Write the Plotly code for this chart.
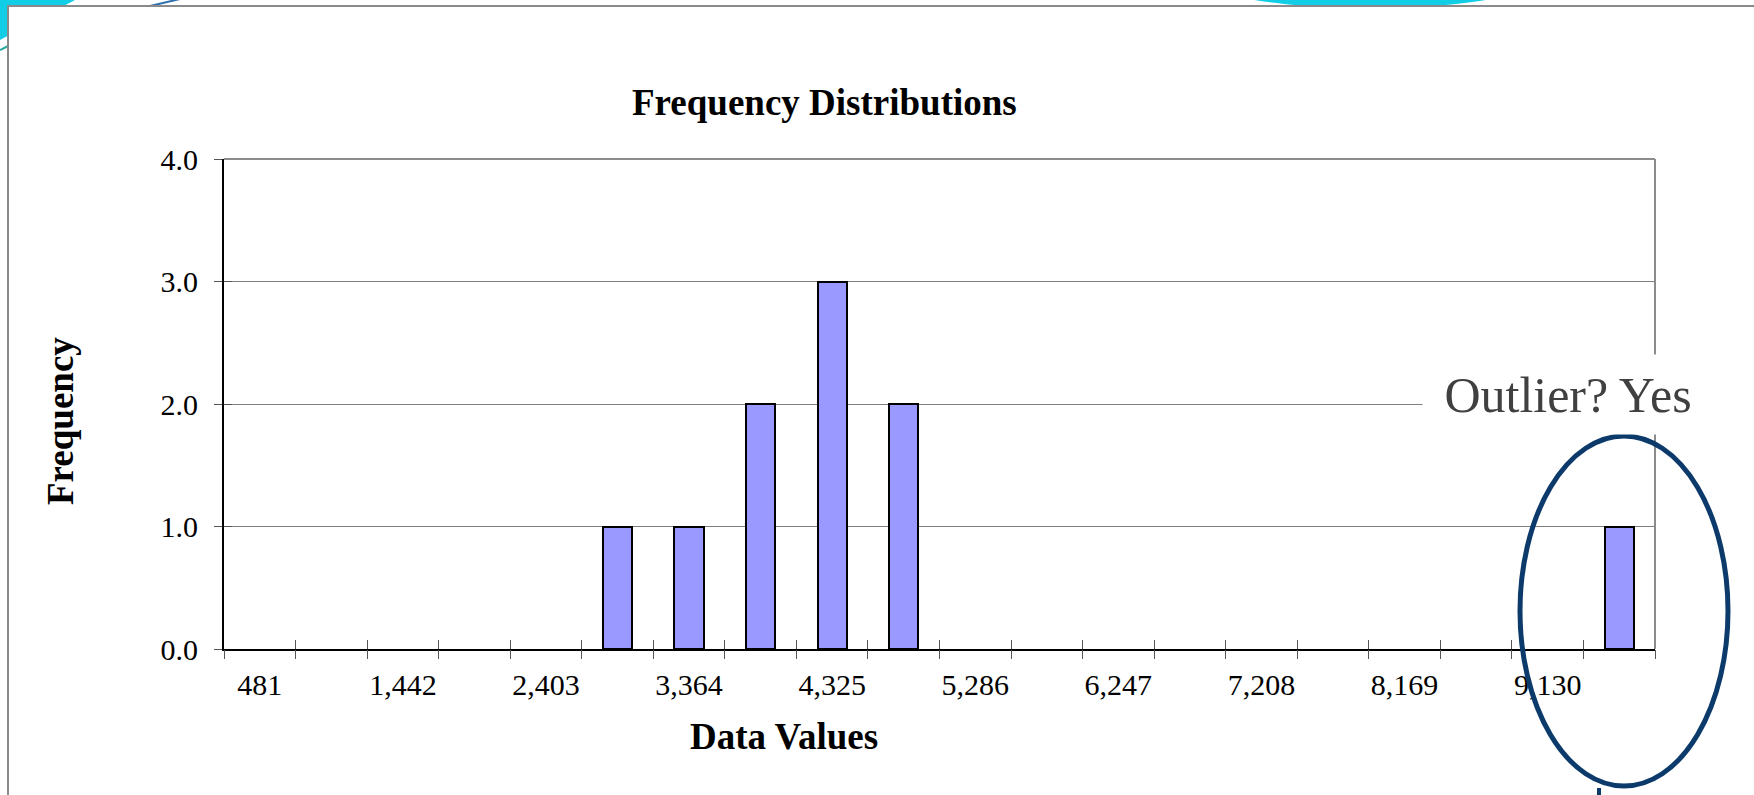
import plotly.graph_objects as go

# ---- data ----
bin_labels = ["481", "962", "1,442", "1,923", "2,403", "2,884", "3,364", "3,845",
              "4,325", "4,806", "5,286", "5,767", "6,247", "6,728", "7,208", "7,689",
              "8,169", "8,650", "9,130", "9,611"]
frequency = [0, 0, 0, 0, 0, 1, 1, 2, 3, 2, 0, 0, 0, 0, 0, 0, 0, 0, 0, 1]
shown_labels = bin_labels[::2]
y_ticks = [0, 1, 2, 3, 4]
title_text = "Frequency Distributions"
x_title = "Data Values"
y_title = "Frequency"
callout_text = "Outlier? Yes"

W, H = 1754, 795
L, R, T, B = 224, 1655, 159, 649
PW, PH = R - L, B - T


def px(xp):
    return (xp - L) / PW


def py(yp):
    return (B - yp) / PH


SERIF = "Liberation Serif, Times New Roman, serif"
n = len(bin_labels)
bounds = [i - 0.5 for i in range(n + 1)]
outline_w = [2 if v > 0 else 0 for v in frequency]

fig = go.Figure()
fig.add_trace(go.Bar(
    x=bin_labels, y=frequency, width=0.41,
    marker=dict(color="#9999FF", line=dict(color="black", width=outline_w)),
    hoverinfo="x+y", showlegend=False,
))
# invisible helpers to activate overlay axes (cross ticks)
fig.add_trace(go.Scatter(x=[0], y=[0], xaxis="x2", yaxis="y2", mode="markers",
                         marker=dict(opacity=0), hoverinfo="skip", showlegend=False))
fig.add_trace(go.Scatter(x=[0], y=[0], xaxis="x3", yaxis="y", mode="markers",
                         marker=dict(opacity=0), hoverinfo="skip", showlegend=False))

tickc = "#555555"
fig.update_layout(
    width=W, height=H,
    margin=dict(l=L, r=W - R, t=T, b=H - B),
    paper_bgcolor="white", plot_bgcolor="rgba(0,0,0,0)",
    font=dict(family=SERIF, size=30, color="black"),
    bargap=0,
    xaxis=dict(type="category", range=[-0.5, n - 0.5], tickmode="array",
               tickvals=shown_labels, ticktext=shown_labels, ticks="",
               showline=True, linecolor="black", linewidth=2, showgrid=False,
               tickfont=dict(family=SERIF, size=30, color="black"),
               ticklabelstandoff=8, fixedrange=True),
    xaxis2=dict(overlaying="x", anchor="y2", range=[-0.5, n - 0.5], tickmode="array",
                tickvals=bounds, ticks="outside", ticklen=9, tickwidth=1, tickcolor=tickc,
                showticklabels=False, showgrid=False, showline=False, zeroline=False,
                side="bottom"),
    xaxis3=dict(overlaying="x", anchor="y", range=[-0.5, n - 0.5], tickmode="array",
                tickvals=bounds, ticks="inside", ticklen=9, tickwidth=1, tickcolor=tickc,
                showticklabels=False, showgrid=False, showline=False, zeroline=False,
                side="bottom"),
    yaxis=dict(range=[0, 4], tickmode="array", tickvals=y_ticks, tickformat=".1f",
               ticks="outside", ticklen=8, tickwidth=1, tickcolor=tickc,
               showline=True, linecolor="black", linewidth=2,
               showgrid=True, gridcolor="#7f7f7f", gridwidth=1, zeroline=False,
               tickfont=dict(family=SERIF, size=30, color="black"),
               ticklabelstandoff=10, fixedrange=True),
    yaxis2=dict(overlaying="y", anchor="x2", range=[0, 4], tickmode="array",
                tickvals=y_ticks, ticks="inside", ticklen=8, tickwidth=1, tickcolor=tickc,
                showticklabels=False, showgrid=False, showline=False, zeroline=False,
                side="left"),
)

shapes = []
# decorative slide background pieces (outside the content frame)
shapes.append(dict(type="path", xref="paper", yref="paper", layer="below",
                   path=f"M {px(0)},{py(0)} L {px(75)},{py(0)} L {px(0)},{py(40)} Z",
                   fillcolor="#12CDE6", line=dict(width=0)))
shapes.append(dict(type="circle", xref="paper", yref="paper", layer="below",
                   x0=px(1215), x1=px(1525), y0=py(-40), y1=py(8),
                   fillcolor="#12CDE6", line=dict(width=0)))
shapes.append(dict(type="line", xref="paper", yref="paper", layer="below",
                   x0=px(150), y0=py(6), x1=px(180), y1=py(-1),
                   line=dict(color="#2E6FB0", width=2)))
shapes.append(dict(type="line", xref="paper", yref="paper", layer="below",
                   x0=px(0), y0=py(50), x1=px(8), y1=py(46),
                   line=dict(color="#2BA8A0", width=2)))
# slide content frame
shapes.append(dict(type="rect", xref="paper", yref="paper", layer="below",
                   x0=px(8), x1=px(1770), y0=py(6), y1=py(810),
                   fillcolor="white", line=dict(color="#8a8a8a", width=2)))
# right border of plot area
shapes.append(dict(type="line", xref="paper", yref="paper", layer="below",
                   x0=1, x1=1, y0=0, y1=1, line=dict(color="#8c8c8c", width=2)))
# top border slightly heavier
shapes.append(dict(type="line", xref="paper", yref="paper", layer="below",
                   x0=0, x1=1, y0=1, y1=1, line=dict(color="#8c8c8c", width=2)))
# callout ellipse
shapes.append(dict(type="circle", xref="paper", yref="paper", layer="above",
                   x0=px(1520), x1=px(1728), y0=py(786), y1=py(436),
                   line=dict(color="#0B3A6B", width=5), fillcolor="rgba(0,0,0,0)"))
shapes.append(dict(type="line", xref="paper", yref="paper", layer="above",
                   x0=px(1599), x1=px(1599), y0=py(788), y1=py(800),
                   line=dict(color="#0B3A6B", width=4)))
fig.update_layout(shapes=shapes)

annotations = [
    dict(text=f"<b>{title_text}</b>", xref="paper", yref="paper",
         x=px(824), y=py(103), xanchor="center", yanchor="middle", showarrow=False,
         font=dict(family=SERIF, size=37, color="black")),
    dict(text=f"<b>{x_title}</b>", xref="paper", yref="paper",
         x=px(784), y=py(736), xanchor="center", yanchor="middle", showarrow=False,
         font=dict(family=SERIF, size=37, color="black")),
    dict(text=f"<b>{y_title}</b>", xref="paper", yref="paper", textangle=-90,
         x=px(60), y=py(421), xanchor="center", yanchor="middle", showarrow=False,
         font=dict(family=SERIF, size=37, color="black")),
    dict(text=callout_text, xref="paper", yref="paper",
         x=px(1568), y=py(394), xanchor="center", yanchor="middle", showarrow=False,
         width=290, height=79, bgcolor="white", borderpad=0,
         font=dict(family=SERIF, size=50, color="#404040")),
]
fig.update_layout(annotations=annotations)

fig.write_html("out.html", config={"displayModeBar": False})
